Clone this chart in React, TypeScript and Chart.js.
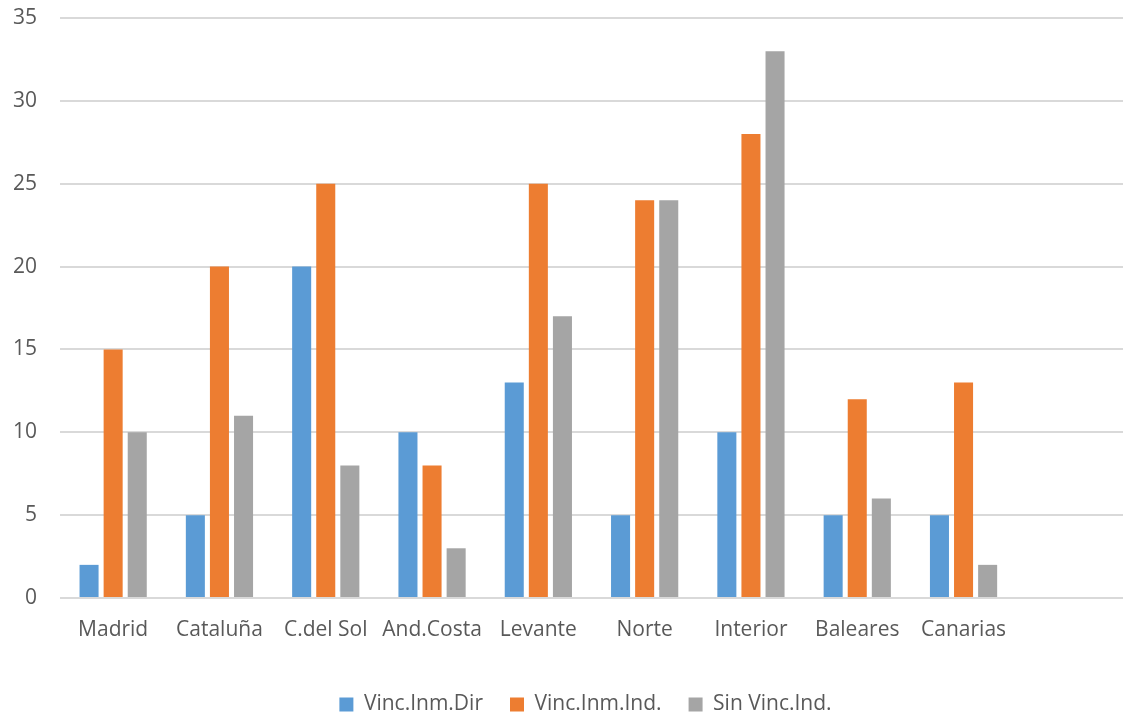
import React, { useEffect, useRef } from "react";
import { Chart, registerables } from "chart.js";

Chart.register(...registerables);

const categories = ["Madrid", "Cataluña", "C.del Sol", "And.Costa", "Levante", "Norte", "Interior", "Baleares", "Canarias", ""];
const vincInmDir = [2, 5, 20, 10, 13, 5, 10, 5, 5, null];
const vincInmInd = [15, 20, 25, 8, 25, 24, 28, 12, 13, null];
const sinVincInd = [10, 11, 8, 3, 17, 24, 33, 6, 2, null];
const seriesNames = ["Vinc.Inm.Dir", "Vinc.Inm.Ind.", "Sin Vinc.Ind."];
const seriesColors = ["#5B9BD5", "#ED7D31", "#A5A5A5"];
const yTicks = [0, 5, 10, 15, 20, 25, 30, 35];

const FONT = "'Open Sans', sans-serif";
const FS = 21;

const shiftLegend = {
  id: "shiftLegend",
  afterLayout(chart: any) {
    const l = chart.legend;
    if (l) {
      l.left += 24;
      l.right += 24;
    }
  },
};

export default function App() {
  const ref = useRef<HTMLCanvasElement | null>(null);
  useEffect(() => {
    document.body.style.margin = "0";
    const ctx = ref.current!;
    const data = [vincInmDir, vincInmInd, sinVincInd];
    const chart = new Chart(ctx, {
      type: "bar",
      data: {
        labels: categories,
        datasets: data.map((d, i) => ({
          label: seriesNames[i],
          data: d as any,
          backgroundColor: seriesColors[i],
          borderWidth: 0,
          barPercentage: 0.79,
          categoryPercentage: 0.68,
        })),
      },
      plugins: [shiftLegend],
      options: {
        animation: false,
        responsive: false,
        maintainAspectRatio: false,
        layout: { padding: { top: 18, right: 14, bottom: -8, left: 0 } },
        plugins: {
          tooltip: { enabled: false },
          legend: {
            position: "bottom",
            labels: {
              font: { family: FONT, size: FS },
              color: "#595959",
              boxWidth: 14,
              boxHeight: 14,
              padding: 27,
            },
          },
        },
        scales: {
          x: {
            grid: { display: false, drawTicks: false },
            border: { display: false },
            ticks: {
              font: { family: FONT, size: FS },
              color: "#595959",
              padding: 19,
              maxRotation: 0,
              autoSkip: false,
            },
            afterFit: (s: any) => { s.height = 69; s.paddingLeft = 0; s.paddingRight = 0; },
          },
          y: {
            min: 0,
            max: 35,
            afterBuildTicks: (s: any) => { s.ticks = yTicks.map((v) => ({ value: v })); },
            grid: { color: "#D9D9D9", lineWidth: 2, drawTicks: false },
            border: { display: false },
            ticks: {
              font: { family: FONT, size: FS },
              color: "#595959",
              padding: 23,
            },
            afterFit: (s: any) => { s.width = 60; s.paddingTop = 0; s.paddingBottom = 0; },
          },
        },
      },
    });
    return () => chart.destroy();
  }, []);
  return (
    <div style={{ position: "absolute", left: 0, top: 0, width: 1137, height: 717 }}>
      <canvas ref={ref} width={1137} height={717} />
    </div>
  );
}
